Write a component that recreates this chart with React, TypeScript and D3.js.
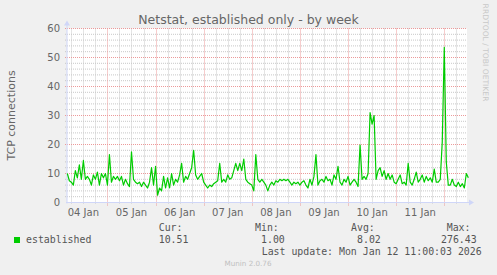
import React from "react";
import * as d3 from "d3";

// ---- data (hourly samples) ----
const seriesStart = Date.UTC(2026, 0, 4, 4, 0);
const established: number[] = [
  10, 7.5, 7, 6, 11, 8.5, 13, 8, 14.5, 8,
  9, 8, 6, 9.5, 8, 10.5, 6, 10, 8.5, 10,
  6, 16.5, 7, 9, 8, 9, 7.5, 9, 6, 8,
  6.5, 5.5, 17.5, 8, 7, 6.5, 7, 5.5, 7, 6,
  5, 7, 12, 6, 12.5, 2.5, 5, 4, 9, 5,
  8.5, 5, 10, 6, 8, 7, 9.5, 13.5, 7, 9,
  8, 10, 12, 18, 9.5, 8, 9, 10, 7, 6,
  5, 6, 5.5, 6.5, 7, 7.5, 13.5, 7, 8, 7,
  9.5, 8, 8.5, 11, 13.5, 11, 13.5, 11, 15, 8,
  7, 6.5, 6, 4, 16.5, 8, 7, 8, 7, 6,
  4, 6, 7, 6, 7.5, 7, 8, 7.5, 8, 7.5,
  8, 7, 6, 7, 6.5, 7, 6, 7, 7.5, 6,
  5, 8, 6, 9, 16.5, 6, 7.5, 8, 7, 9,
  7.5, 8, 6, 9.5, 8, 12.5, 7, 6, 8, 7,
  9, 6, 7, 8, 7, 5.5, 19.8, 8, 9, 8,
  10, 31, 27, 30, 8, 11, 12, 9, 11, 8,
  10, 8, 9.5, 7, 6.5, 8, 9.5, 6.5, 7, 6,
  13.5, 7, 6, 8, 10.5, 7, 8, 9.5, 7, 9,
  7.5, 8.5, 7, 11.5, 7, 7, 8, 21, 53.5, 14,
  6, 6, 8, 6, 5.5, 7, 5.5, 6.5, 5, 10,
  8.5,
];
const dayLabels = ["04 Jan", "05 Jan", "06 Jan", "07 Jan", "08 Jan", "09 Jan", "10 Jan", "11 Jan"];
const yTicks = [0, 10, 20, 30, 40, 50, 60];
const statNames = ["Cur:", "Min:", "Avg:", "Max:"];
const statValues = ["10.51", "1.00", "8.02", "276.43"];

const W = 497, H = 275;
const L = 67, R = 467, T = 28.5, B = 202.5;
const GREEN = "#00CC00";
const AXIS = "#CFD6F8";

export default function App() {
  const x = d3.scaleUtc()
    .domain([new Date(Date.UTC(2026, 0, 4, 3, 50)), new Date(Date.UTC(2026, 0, 12, 11, 20))])
    .range([L, R]);
  const y = d3.scaleLinear().domain([0, 60]).range([B, T]);

  const pts = established.map((v, i) => [new Date(seriesStart + i * 3600e3), v] as [Date, number]);
  const line = d3.line<[Date, number]>().x(d => x(d[0])).y(d => y(Math.min(d[1], 60)));

  const minorX = d3.utcHour.every(6)!.range(x.domain()[0], x.domain()[1]).filter(d => d.getUTCHours() !== 0);
  const majorX = d3.utcDay.range(x.domain()[0], x.domain()[1]);
  const minorY = d3.range(0, 61, 2).filter(v => v % 10 !== 0);
  const majorY = yTicks.filter(v => v > 0);
  const labelDays = dayLabels.map((_, i) => new Date(Date.UTC(2026, 0, 4 + i, 12)));

  const sans = "'DejaVu Sans', sans-serif";
  const mono = "'DejaVu Sans Mono', monospace";
  const statX = [158.7, 255, 351, 446.7];
  const valX = [158.7, 261, 357, 441];

  return (
    <svg width={W} height={H} style={{ position: "fixed", left: 0, top: 0 }} xmlns="http://www.w3.org/2000/svg">
      <rect x={0} y={0} width={W} height={H} fill="#F0F0F0" />
      <rect x={L} y={T} width={R - L} height={B - T} fill="#FFFFFF" />
      {/* minor grid */}
      {minorY.map(v => (
        <line key={"my" + v} x1={L - 2} x2={R} y1={y(v)} y2={y(v)} stroke="#c8c8c8" strokeWidth={1} strokeDasharray="1,1" />
      ))}
      {minorX.map(d => (
        <line key={"mx" + d.getTime()} x1={Math.round(x(d)) + 0.5} x2={Math.round(x(d)) + 0.5} y1={T} y2={B + 2} stroke="#c8c8c8" strokeWidth={1} strokeDasharray="1,1" />
      ))}
      {/* major grid */}
      {majorY.map(v => (
        <line key={"My" + v} x1={L - 2} x2={R} y1={y(v)} y2={y(v)} stroke="#ec9a9a" strokeWidth={1} strokeDasharray="1,1" />
      ))}
      {majorX.map(d => (
        <line key={"Mx" + d.getTime()} x1={Math.round(x(d)) + 0.5} x2={Math.round(x(d)) + 0.5} y1={T} y2={B + 3} stroke="#ec9a9a" strokeWidth={1} strokeDasharray="1,1" />
      ))}
      {/* axes */}
      <line x1={L} x2={L} y1={B + 1} y2={T - 4} stroke={AXIS} strokeWidth={1} />
      <path d={`M${L - 3},${T - 3} L${L},${T - 8} L${L + 3},${T - 3} Z`} fill={AXIS} />
      <line x1={L - 1} x2={R + 3} y1={B} y2={B} stroke={AXIS} strokeWidth={1} />
      <path d={`M${R + 2},${B - 3} L${R + 7},${B} L${R + 2},${B + 3} Z`} fill={AXIS} />
      {/* data */}
      <path d={line(pts) || ""} fill="none" stroke={GREEN} strokeWidth={1.2} strokeLinejoin="round" />
      {/* y labels */}
      {yTicks.map(v => (
        <text key={"yl" + v} x={60} y={y(v)} dy="0.35em" textAnchor="end" fontFamily={sans} fontSize={10} fill="#666">{v}</text>
      ))}
      {/* x labels */}
      {labelDays.map((d, i) => (
        <text key={"xl" + i} x={x(d)} y={216} textAnchor="middle" fontFamily={sans} fontSize={10} fill="#666">{dayLabels[i]}</text>
      ))}
      {/* titles */}
      <text x={248.5} y={23.5} textAnchor="middle" fontFamily={sans} fontSize={12.5} fill="#666">Netstat, established only - by week</text>
      <text transform={`translate(15,${(T + B) / 2}) rotate(-90)`} textAnchor="middle" fontFamily={sans} fontSize={11} fill="#666">TCP connections</text>
      <text transform="translate(483,52.5) rotate(90)" textAnchor="middle" fontFamily={sans} fontSize={7.6} fill="#c8c8c8">RRDTOOL / TOBI OETIKER</text>
      {/* legend */}
      <rect x={14} y={237} width={6} height={6} fill={GREEN} />
      <text x={26} y={242.7} fontFamily={mono} fontSize={9.9} fill="#555">established</text>
      {statNames.map((s, i) => (
        <text key={"sn" + i} x={statX[i]} y={230.5} fontFamily={mono} fontSize={9.9} fill="#555">{s}</text>
      ))}
      {statValues.map((s, i) => (
        <text key={"sv" + i} x={valX[i]} y={242.7} fontFamily={mono} fontSize={9.9} fill="#555">{s}</text>
      ))}
      <text x={261.7} y={255} fontFamily={mono} fontSize={9.9} fill="#555">Last update: Mon Jan 12 11:00:03 2026</text>
      <text x={248} y={266} textAnchor="middle" fontFamily={sans} fontSize={7.2} fill="#c0c0c0">Munin 2.0.76</text>
    </svg>
  );
}
